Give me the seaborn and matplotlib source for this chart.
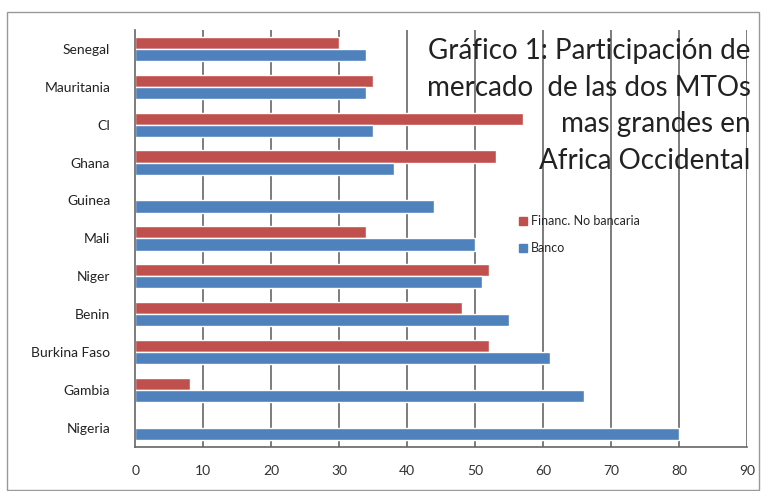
import matplotlib
matplotlib.use("Agg")
import matplotlib.pyplot as plt
import seaborn as sns
import pandas as pd
import numpy as np
from matplotlib.patches import Rectangle

countries = ["Senegal", "Mauritania", "CI", "Ghana", "Guinea", "Mali", "Niger",
             "Benin", "Burkina Faso", "Gambia", "Nigeria"]
financ = [30, 35, 57, 53, 0, 34, 52, 48, 52, 8, 0]
banco = [34, 34, 35, 38, 44, 50, 51, 55, 61, 66, 80]
series = ["Financ. No bancaria", "Banco"]
xticks = [0, 10, 20, 30, 40, 50, 60, 70, 80, 90]
title = "Gráfico 1: Participación de\nmercado  de las dos MTOs\nmas grandes en\nAfrica Occidental"

df = pd.DataFrame({
    "País": countries * 2,
    "Valor": financ + banco,
    "Serie": [series[0]] * len(countries) + [series[1]] * len(countries),
})

sns.set_theme(style="white")
plt.rcParams["font.family"] = ["Lato", "DejaVu Sans"]

fig = plt.figure(figsize=(7.64, 4.91), dpi=100)
ax = fig.add_axes([0.177, 0.09, 0.801, 0.849])

sns.barplot(data=df, y="País", x="Valor", hue="Serie", hue_order=series,
            order=countries, palette=["#C0504D", "#4F81BD"], width=0.64,
            orient="h", ax=ax, legend=False, saturation=1)

ax.set_xlim(0, 90)
ax.set_xticks(xticks)
ax.set_xticklabels([str(t) for t in xticks], fontsize=10, color="#333333")
ax.set_xlabel("")
ax.set_ylabel("")
ax.set_ylim(len(countries) - 0.5, -0.5)
ax.set_yticks(range(len(countries)))
ax.set_yticklabels(countries, fontsize=10, color="#222222")
ax.set_yticks(np.arange(-0.5, len(countries), 1), minor=True)
ax.tick_params(axis="y", which="major", length=0, pad=18)
ax.tick_params(axis="y", which="minor", length=5, width=1, color="#555555", direction="out")
ax.tick_params(axis="x", which="major", length=5, width=1, color="#555555", direction="out", pad=8)

for t in xticks[1:]:
    ax.axvline(t, color="#666666", lw=1.2, zorder=0)
for s in ["top", "right"]:
    ax.spines[s].set_visible(False)
for s in ["left", "bottom"]:
    ax.spines[s].set_color("#666666")
    ax.spines[s].set_linewidth(1.2)

ax.text(1.006, 0.98, title, transform=ax.transAxes, ha="right", va="top",
        fontsize=20, color="#222222", linespacing=1.5, zorder=5)

handles = [Rectangle((0, 0), 1, 1, color="#C0504D"), Rectangle((0, 0), 1, 1, color="#4F81BD")]
fig.legend(handles, series, loc="upper left", bbox_to_anchor=(0.665, 0.585),
           frameon=False, fontsize=9, handlelength=0.6, handleheight=0.6,
           labelspacing=1.2, handletextpad=0.3)

fig.add_artist(Rectangle((0.009, 0.003), 0.985, 0.972, transform=fig.transFigure,
                         fill=False, edgecolor="#999999", lw=1))

fig.savefig("out.png", dpi=100)
